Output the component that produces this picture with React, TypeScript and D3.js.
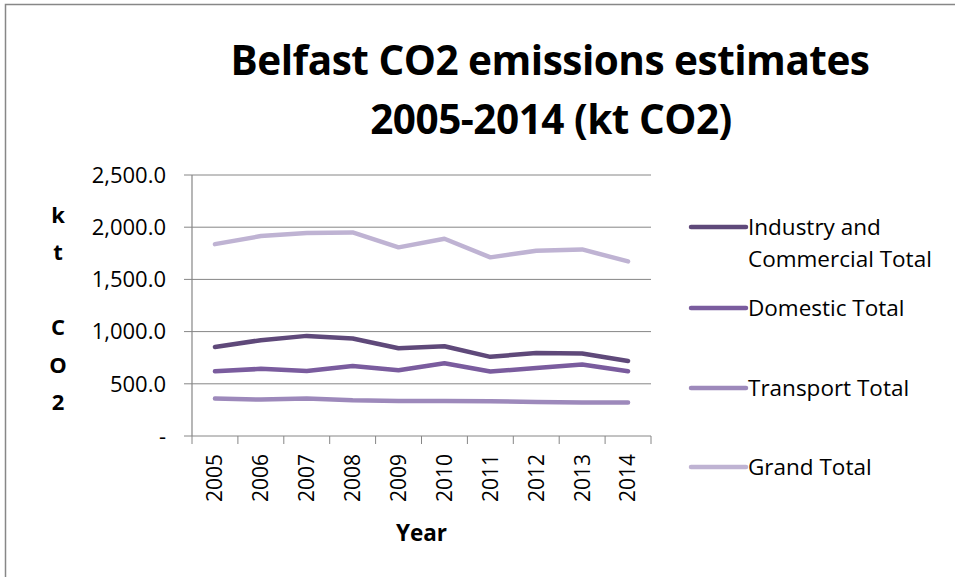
import React from 'react';
import * as d3 from 'd3';

const years = ['2005', '2006', '2007', '2008', '2009', '2010', '2011', '2012', '2013', '2014'];

const industryTotal = [853, 918, 959, 934, 841, 860, 758, 796, 790, 719];
const domesticTotal = [620, 643, 623, 671, 630, 697, 617, 652, 685, 620];
const transportTotal = [359, 349, 359, 342, 336, 336, 333, 326, 320, 320];
const grandTotal = [1838, 1915, 1944, 1950, 1807, 1889, 1711, 1774, 1787, 1672];

const yTicks = [0, 500, 1000, 1500, 2000, 2500];

const seriesNames = ['Industry and\nCommercial Total', 'Domestic Total', 'Transport Total', 'Grand Total'];
const seriesColors = ['#5f497a', '#7a5c9e', '#9d89bb', '#bfb3d3'];

const FONT = '"Open Sans", Lato, sans-serif';

const App: React.FC = () => {
  const width = 955;
  const height = 577;
  const plot = { left: 192, right: 651, top: 175, bottom: 436 };

  const x = d3.scaleBand<string>().domain(years).range([plot.left, plot.right]);
  const y = d3.scaleLinear().domain([0, 2500]).range([plot.bottom, plot.top]);

  const series = [industryTotal, domesticTotal, transportTotal, grandTotal];

  const line = d3
    .line<number>()
    .x((_d, i) => (x(years[i]) ?? 0) + x.bandwidth() / 2)
    .y(d => y(d));

  const fmt = (v: number) => (v === 0 ? '-' : d3.format(',.1f')(v));

  const axisColor = '#868686';
  const legendY = [227, 308, 388, 467];

  return (
    <svg
      width={width}
      height={height}
      style={{ position: 'absolute', left: 0, top: 0, background: '#fff' }}
      fontFamily={FONT}
    >
      <rect x={0} y={0} width={width} height={height} fill="#fff" />
      <path d={`M5.5,${height} V4.5 H${width}`} fill="none" stroke="#878787" strokeWidth={1.5} />

      {/* title */}
      <text x={550} y={75} textAnchor="middle" fontSize={40.5} fontWeight="bold" fill="#000" letterSpacing={-0.5}>
        Belfast CO2 emissions estimates
      </text>
      <text x={551} y={134} textAnchor="middle" fontSize={40.5} fontWeight="bold" fill="#000" letterSpacing={-0.5}>
        2005-2014 (kt CO2)
      </text>

      {/* gridlines */}
      {yTicks.map(t => (
        <line key={t} x1={plot.left - 8} x2={plot.right} y1={y(t)} y2={y(t)} stroke={axisColor} strokeWidth={1} />
      ))}
      <line x1={plot.left} x2={plot.left} y1={plot.top} y2={plot.bottom} stroke={axisColor} strokeWidth={1.2} />

      {/* y tick labels */}
      {yTicks.map(t => (
        <text key={t} x={166} y={y(t)} dy="0.35em" textAnchor="end" fontSize={22} fill="#000">
          {fmt(t)}
        </text>
      ))}

      {/* x ticks */}
      {[...years.map(yr => x(yr) ?? 0), plot.right].map((px, i) => (
        <line key={i} x1={px} x2={px} y1={plot.bottom} y2={plot.bottom + 8} stroke={axisColor} strokeWidth={1} />
      ))}
      {years.map(yr => (
        <text
          key={yr}
          transform={`translate(${(x(yr) ?? 0) + x.bandwidth() / 2},454) rotate(-90)`}
          textAnchor="end"
          dy="0.35em"
          fontSize={21}
          fill="#000"
        >
          {yr}
        </text>
      ))}

      <text x={(plot.left + plot.right) / 2} y={541} textAnchor="middle" fontSize={22.5} fontWeight="bold" fill="#000">
        Year
      </text>

      {/* y axis title, stacked letters */}
      {['k', 't', '', 'C', 'O', '2'].map((ch, i) => (
        <text key={i} x={58} y={215 + i * 37.5} dy="0.35em" textAnchor="middle" fontSize={22} fontWeight="bold" fill="#000">
          {ch}
        </text>
      ))}

      {/* lines */}
      {series.map((s, i) => (
        <path
          key={i}
          d={line(s) || ''}
          fill="none"
          stroke={seriesColors[i]}
          strokeWidth={4.5}
          strokeLinecap="round"
          strokeLinejoin="round"
        />
      ))}

      {/* legend */}
      {seriesNames.map((name, i) => (
        <g key={name}>
          <line x1={691} x2={746} y1={legendY[i]} y2={legendY[i]} stroke={seriesColors[i]} strokeWidth={4.5} strokeLinecap="round" />
          {name.split('\n').map((part, j) => (
            <text key={j} x={748} y={legendY[i] + j * 32} dy="0.35em" fontSize={22.5} fill="#000">
              {part}
            </text>
          ))}
        </g>
      ))}
    </svg>
  );
};

export default App;
